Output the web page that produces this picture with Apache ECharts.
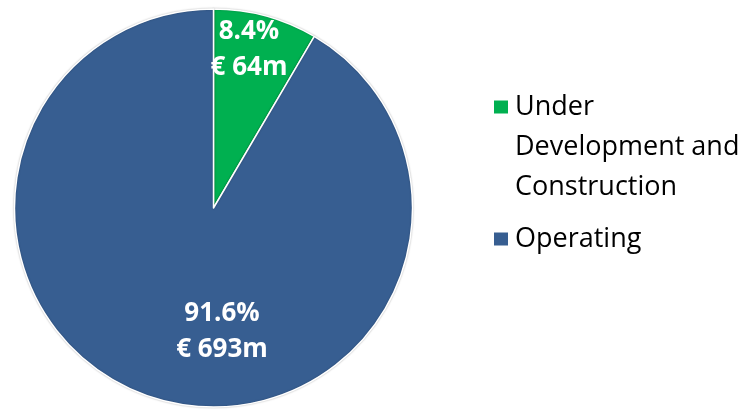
<!DOCTYPE html>
<html>
<head>
<meta charset="utf-8">
<script src="https://cdn.jsdelivr.net/npm/echarts@6/dist/echarts.min.js"></script>
<style>
  html, body { margin: 0; padding: 0; background: #fff; }
  #chart { width: 753px; height: 411px; }
</style>
</head>
<body>
<div id="chart"></div>
<script>
// data
const categories = ['Under\nDevelopment and\nConstruction', 'Operating'];
const amounts = [64, 693];          // € m
const shares = [8.4, 91.6];         // %
const colors = ['#00B050', '#375E91'];

// label block centres (px), one per slice
const labelSpots = [[249, 50], [222, 332]];

let chart = echarts.init(document.getElementById('chart'));

const legendText = {
  fontFamily: 'Open Sans',
  fontSize: 27,
  color: '#000',
  lineHeight: 40,
  padding: [0, 0, 0, 1]
};

chart.setOption({
  animation: false,
  color: colors,
  legend: [
    {
      data: [categories[0]],
      orient: 'vertical',
      left: 492,
      top: 7,
      padding: 0,
      icon: 'rect',
      itemWidth: 16,
      itemHeight: 15,
      // two blank lines on top keep the first text line level with the icon
      formatter: name => '\n\n' + name,
      textStyle: legendText
    },
    {
      data: [categories[1]],
      orient: 'vertical',
      left: 492,
      top: 219,
      padding: 0,
      icon: 'rect',
      itemWidth: 16,
      itemHeight: 15,
      textStyle: legendText
    }
  ],
  series: [{
    type: 'pie',
    center: [213.5, 208],
    radius: 199,
    startAngle: 90,
    clockwise: true,
    itemStyle: {
      borderColor: '#fff',
      borderWidth: 1.5,
      shadowBlur: 2,
      shadowColor: 'rgba(0,0,0,0.25)'
    },
    emphasis: { disabled: true },
    label: {
      show: true,
      position: 'inside',
      fontFamily: 'Open Sans',
      fontWeight: 'bold',
      fontSize: 26,
      lineHeight: 36,
      color: '#fff',
      align: 'center',
      formatter: p => shares[p.dataIndex].toFixed(1) + '%\n€ ' + amounts[p.dataIndex] + 'm'
    },
    labelLine: { show: false },
    labelLayout: p => ({
      x: labelSpots[p.dataIndex][0],
      y: labelSpots[p.dataIndex][1],
      align: 'center',
      verticalAlign: 'middle'
    }),
    data: categories.map((name, i) => ({ name: name, value: amounts[i] }))
  }]
});
</script>
</body>
</html>
